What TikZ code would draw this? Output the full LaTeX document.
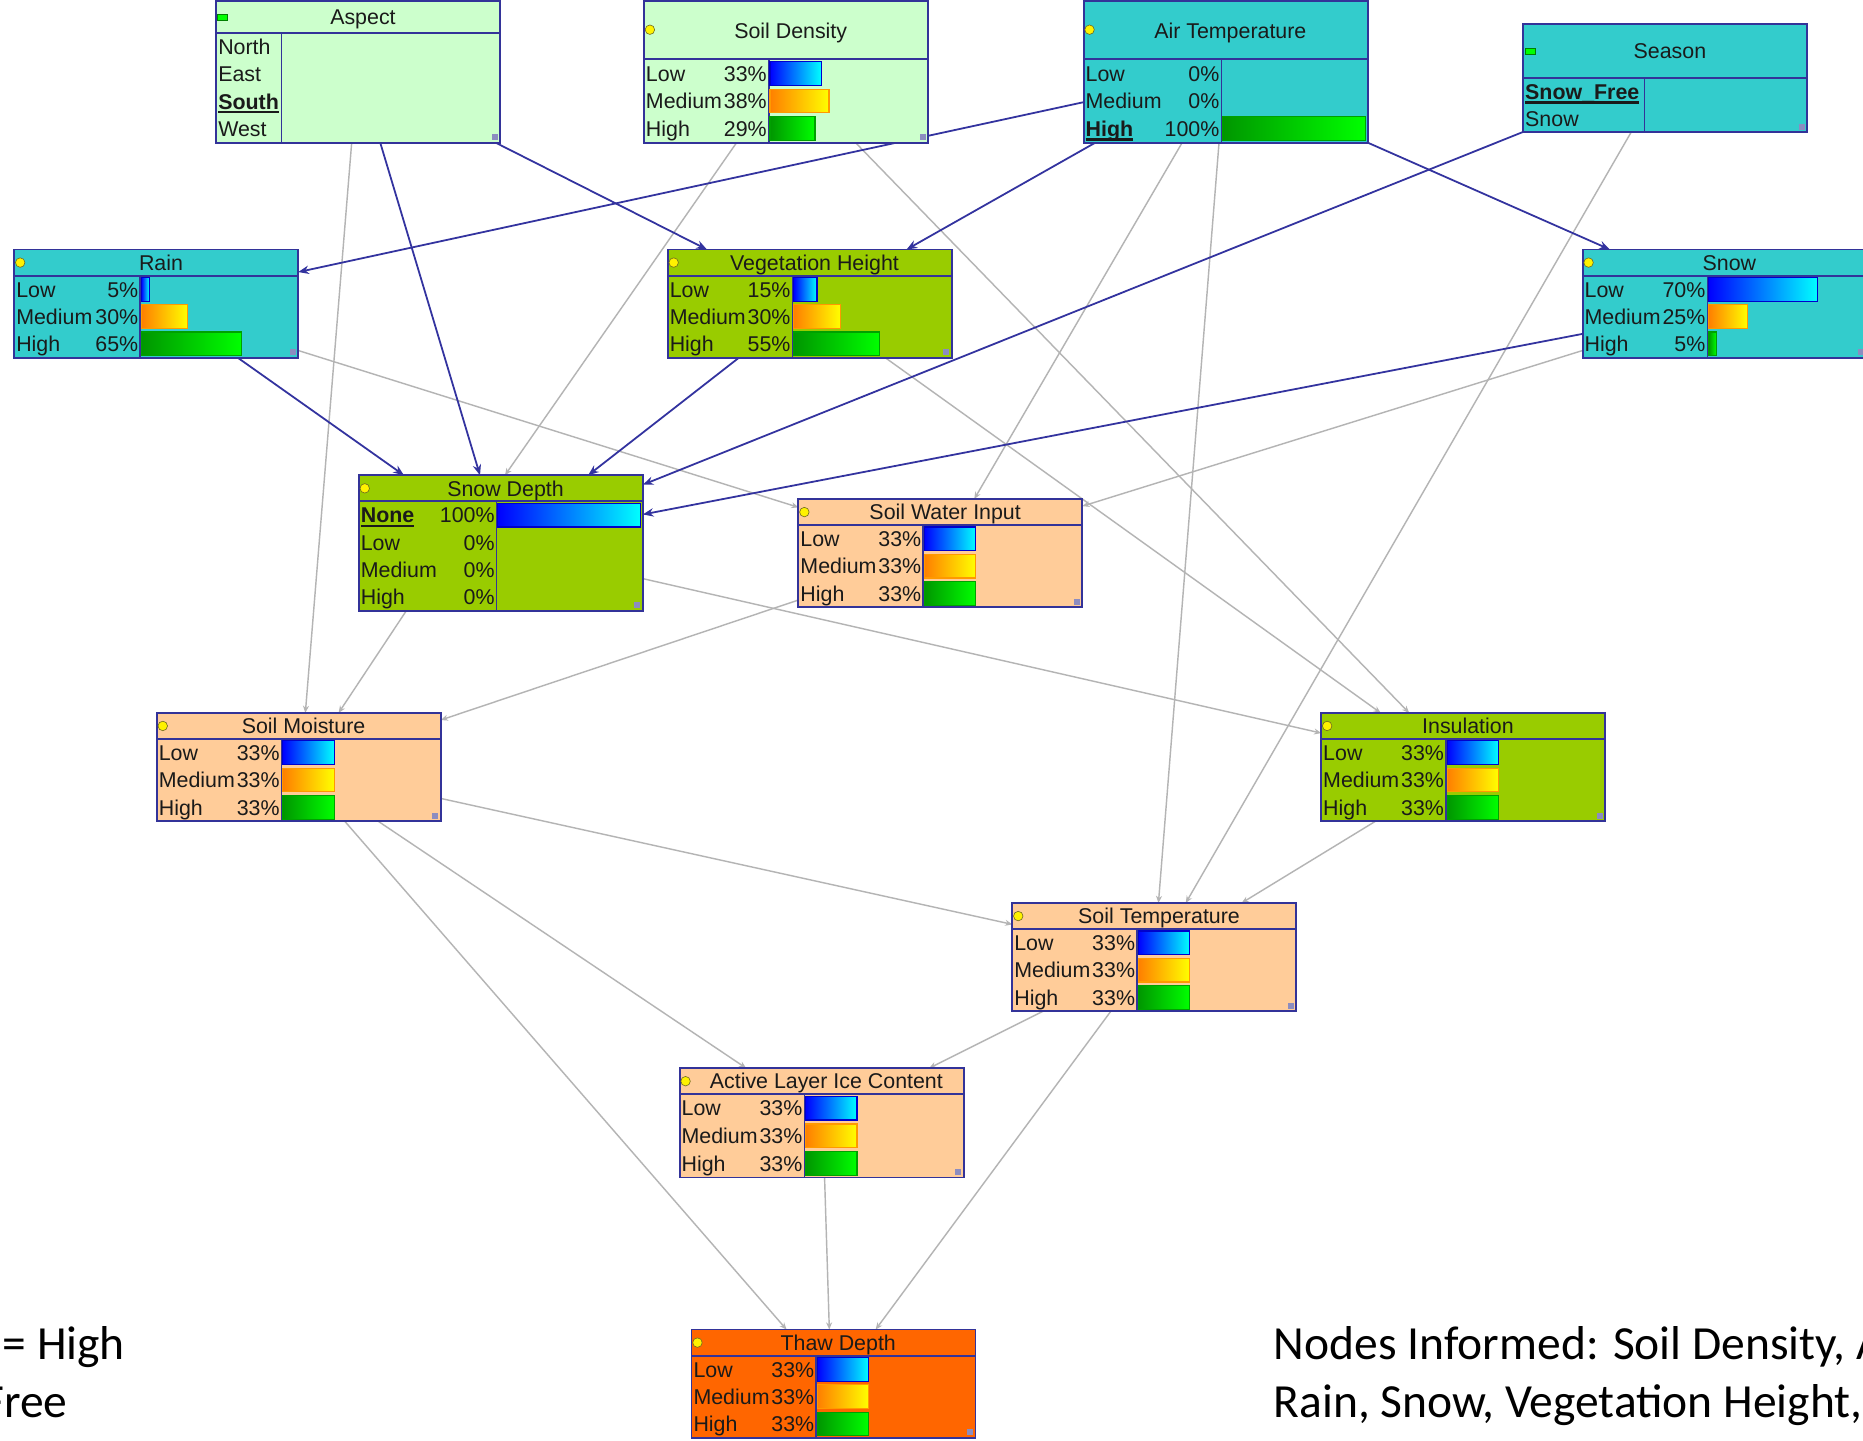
\documentclass[tikz,border=0pt]{standalone}
\usepackage{fontspec}
\setmainfont{Liberation Sans}
\newfontfamily\calib{Carlito}
\usetikzlibrary{arrows.meta,backgrounds}
\definecolor{lgreen}{HTML}{CCFFCC}
\definecolor{tealb}{HTML}{33CCCC}
\definecolor{oliveb}{HTML}{99CC00}
\definecolor{peach}{HTML}{FFCC99}
\definecolor{orng}{HTML}{FF6600}
\definecolor{navyb}{HTML}{333399}
\definecolor{edgeblue}{HTML}{33339F}
\definecolor{edgegrey}{HTML}{B4B4B4}
\definecolor{txt}{HTML}{1A1A1A}
\definecolor{gripc}{HTML}{8C8CC0}
\definecolor{lowL}{HTML}{0000FF}
\definecolor{lowR}{HTML}{00FFFF}
\definecolor{lowB}{HTML}{0000CC}
\definecolor{medL}{HTML}{FF7F00}
\definecolor{medR}{HTML}{FFFF00}
\definecolor{medB}{HTML}{FF9900}
\definecolor{hiL}{HTML}{009600}
\definecolor{hiR}{HTML}{00FF00}
\definecolor{hiB}{HTML}{00A000}
\tikzset{
  bnframe/.style={draw=navyb, line width=1.6pt, inner sep=0pt, outer sep=0pt, anchor=north west, rectangle},
  frameline/.style={draw=navyb, line width=1.6pt},
  divline/.style={draw=navyb, line width=1.4pt},
  titletext/.style={font=\fontsize{18}{20}\selectfont, text=txt, inner sep=0pt, anchor=base},
  rowtext/.style={font=\fontsize{18}{20}\selectfont, text=txt, inner sep=0pt},
  bottomtext/.style={font=\calib\fontsize{40}{46}\selectfont, text=black, inner sep=0pt},
  barlow/.style={draw=lowB, line width=1pt, left color=lowL, right color=lowR},
  barmed/.style={draw=medB, line width=1pt, left color=medL, right color=medR},
  barhigh/.style={draw=hiB, line width=1pt, left color=hiL, right color=hiR},
  bedge/.style={draw=edgeblue, line width=1.5pt, -{Stealth[length=9pt,width=7pt]}},
  gedge/.style={draw=edgegrey, line width=1.2pt, -{Stealth[length=6pt,width=5pt]}},
}
% name, left, top, right, header bottom, bottom, divider, fill, title
\newcommand\bnbox[9]{%
  \node[bnframe, fill=#8, minimum width={(#4-#2)*1pt}, minimum height={(#6-#3)*1pt}] (#1) at (#2,#3) {};
  \draw[frameline] (#2,#5) -- (#4,#5);
  \draw[divline] (#7,#5) -- (#7,#6);
  \node[titletext] (#1-title) at ({(#2+#4)/2+4},{(#3+#5)/2+6.5}) {#9};
  \fill[gripc] ({#4-7},{#6-7}) rectangle ({#4-2},{#6-2});
}
% id, left, yc, divider, right, label, pct, frac, barstyle
\newcommand\bnrow[9]{%
  \node[rowtext, anchor=base west] (#1-l) at ({#2+1.5},{#3+6.5}) {#6};
  \node[rowtext, anchor=base east] (#1-p) at ({#4-1.5},{#3+6.5}) {#7};
  \ifdim #8pt>0pt \path[#9] ({#4+1},{#3-10}) rectangle ({#4+1+#8*(#5-#4-3)},{#3+10});\fi
}
\newcommand\yind[2]{\filldraw[fill=yellow, draw=olive!70!black, line width=0.5pt] (#1,#2) circle (4);}
\newcommand\gind[2]{\filldraw[fill=green, draw=green!50!black, line width=0.5pt] ({#1-3},{#2-2.5}) rectangle ({#1+5},{#2+2.5});}
\newcommand\bnsel[1]{\setbox0\hbox{\bfseries #1}\rlap{\rule[-3.5pt]{\wd0}{2pt}}\box0}

\begin{document}
\begin{tikzpicture}[x=1pt, y=-1pt]
\useasboundingbox (0,0) rectangle (1568,1212);

% ---------------- nodes ----------------
\bnbox{asp}{182}{1}{421}{28}{120}{237}{lgreen}{Aspect}
\gind{186}{14.5}
\bnrow{asp1}{182}{39.5}{237}{421}{North}{}{0}{barlow}
\bnrow{asp2}{182}{62.5}{237}{421}{East}{}{0}{barlow}
\bnrow{asp3}{182}{85.5}{237}{421}{\bnsel{South}}{}{0}{barlow}
\bnrow{asp4}{182}{108.5}{237}{421}{West}{}{0}{barlow}

\bnbox{sd}{542}{1}{781}{50}{120}{647}{lgreen}{Soil Density}
\yind{547}{25}
\bnrow{sd1}{542}{61.7}{647}{781}{Low}{33\%}{0.33}{barlow}
\bnrow{sd2}{542}{85}{647}{781}{Medium}{38\%}{0.38}{barmed}
\bnrow{sd3}{542}{108.3}{647}{781}{High}{29\%}{0.29}{barhigh}

\bnbox{at}{912}{1}{1151}{50}{120}{1028}{tealb}{Air Temperature}
\yind{917}{25}
\bnrow{at1}{912}{61.7}{1028}{1151}{Low}{0\%}{0}{barlow}
\bnrow{at2}{912}{85}{1028}{1151}{Medium}{0\%}{0}{barmed}
\bnrow{at3}{912}{108.3}{1028}{1151}{\bnsel{High}}{100\%}{1}{barhigh}

\bnbox{sea}{1282}{20}{1521}{66}{111}{1384}{tealb}{Season}
\gind{1287}{43}
\bnrow{sea1}{1282}{77.25}{1384}{1521}{\bnsel{Snow\_Free}}{}{0}{barlow}
\bnrow{sea2}{1282}{99.75}{1384}{1521}{Snow}{}{0}{barlow}

\bnbox{rain}{12}{210}{251}{232}{301}{118}{tealb}{Rain}
\yind{17}{221}
\bnrow{rain1}{12}{243.5}{118}{251}{Low}{5\%}{0.05}{barlow}
\bnrow{rain2}{12}{266.5}{118}{251}{Medium}{30\%}{0.30}{barmed}
\bnrow{rain3}{12}{289.5}{118}{251}{High}{65\%}{0.65}{barhigh}

\bnbox{veg}{562}{210}{801}{232}{301}{667}{oliveb}{Vegetation Height}
\yind{567}{221}
\bnrow{veg1}{562}{243.5}{667}{801}{Low}{15\%}{0.15}{barlow}
\bnrow{veg2}{562}{266.5}{667}{801}{Medium}{30\%}{0.30}{barmed}
\bnrow{veg3}{562}{289.5}{667}{801}{High}{55\%}{0.55}{barhigh}

\bnbox{snow}{1332}{210}{1571}{232}{301}{1437}{tealb}{Snow}
\yind{1337}{221}
\bnrow{snow1}{1332}{243.5}{1437}{1571}{Low}{70\%}{0.70}{barlow}
\bnrow{snow2}{1332}{266.5}{1437}{1571}{Medium}{25\%}{0.25}{barmed}
\bnrow{snow3}{1332}{289.5}{1437}{1571}{High}{5\%}{0.05}{barhigh}

\bnbox{sdep}{302}{400}{541}{422}{514}{418}{oliveb}{Snow Depth}
\yind{307}{411}
\bnrow{sdep1}{302}{433.5}{418}{541}{\bnsel{None}}{100\%}{1}{barlow}
\bnrow{sdep2}{302}{456.5}{418}{541}{Low}{0\%}{0}{barlow}
\bnrow{sdep3}{302}{479.5}{418}{541}{Medium}{0\%}{0}{barmed}
\bnrow{sdep4}{302}{502.5}{418}{541}{High}{0\%}{0}{barhigh}

\bnbox{swi}{672}{420}{911}{442}{511}{777}{peach}{Soil Water Input}
\yind{677}{431}
\bnrow{swi1}{672}{453.5}{777}{911}{Low}{33\%}{0.33}{barlow}
\bnrow{swi2}{672}{476.5}{777}{911}{Medium}{33\%}{0.33}{barmed}
\bnrow{swi3}{672}{499.5}{777}{911}{High}{33\%}{0.33}{barhigh}

\bnbox{sm}{132}{600}{371}{622}{691}{237}{peach}{Soil Moisture}
\yind{137}{611}
\bnrow{sm1}{132}{633.5}{237}{371}{Low}{33\%}{0.33}{barlow}
\bnrow{sm2}{132}{656.5}{237}{371}{Medium}{33\%}{0.33}{barmed}
\bnrow{sm3}{132}{679.5}{237}{371}{High}{33\%}{0.33}{barhigh}

\bnbox{ins}{1112}{600}{1351}{622}{691}{1217}{oliveb}{Insulation}
\yind{1117}{611}
\bnrow{ins1}{1112}{633.5}{1217}{1351}{Low}{33\%}{0.33}{barlow}
\bnrow{ins2}{1112}{656.5}{1217}{1351}{Medium}{33\%}{0.33}{barmed}
\bnrow{ins3}{1112}{679.5}{1217}{1351}{High}{33\%}{0.33}{barhigh}

\bnbox{st}{852}{760}{1091}{782}{851}{957}{peach}{Soil Temperature}
\yind{857}{771}
\bnrow{st1}{852}{793.5}{957}{1091}{Low}{33\%}{0.33}{barlow}
\bnrow{st2}{852}{816.5}{957}{1091}{Medium}{33\%}{0.33}{barmed}
\bnrow{st3}{852}{839.5}{957}{1091}{High}{33\%}{0.33}{barhigh}

\bnbox{alic}{572}{899}{811}{921}{991}{677}{peach}{Active Layer Ice Content}
\yind{577}{910}
\bnrow{alic1}{572}{932.7}{677}{811}{Low}{33\%}{0.33}{barlow}
\bnrow{alic2}{572}{956}{677}{811}{Medium}{33\%}{0.33}{barmed}
\bnrow{alic3}{572}{979.3}{677}{811}{High}{33\%}{0.33}{barhigh}

\bnbox{td}{582}{1119}{821}{1141}{1210}{687}{orng}{Thaw Depth}
\yind{587}{1130}
\bnrow{td1}{582}{1152.5}{687}{821}{Low}{33\%}{0.33}{barlow}
\bnrow{td2}{582}{1175.5}{687}{821}{Medium}{33\%}{0.33}{barmed}
\bnrow{td3}{582}{1198.5}{687}{821}{High}{33\%}{0.33}{barhigh}

% ---------------- bottom texts ----------------
\node[bottomtext, anchor=base west] (lefttxt1) at (2,1144) {= High};
\node[bottomtext, anchor=base east] (lefttxt2) at (57,1193) {Free};
\node[bottomtext, anchor=base west] (righttxt1) at (1072,1144) {Nodes Informed: Soil Density, A};
\node[bottomtext, anchor=base west] (righttxt2) at (1072,1193) {Rain, Snow, Vegetation Height,};

% ---------------- connectors ----------------
\begin{pgfonlayer}{background}
\fill[white] (0,0) rectangle (1568,1212);
% grey links
\draw[gedge] ([shift={(114,0)}]asp.south west) -- ([shift={(125,0)}]sm.north west);
\draw[gedge] ([shift={(78,0)}]sd.south west) -- ([shift={(123,0)}]sdep.north west);
\draw[gedge] ([shift={(178,0)}]sd.south west) -- ([shift={(74,0)}]ins.north west);
\draw[gedge] ([shift={(83,0)}]at.south west) -- ([shift={(148,0)}]swi.north west);
\draw[gedge] ([shift={(114,0)}]at.south west) -- ([shift={(123,0)}]st.north west);
\draw[gedge] ([shift={(91,0)}]sea.south west) -- ([shift={(146,0)}]st.north west);
\draw[gedge] ([shift={(0,85)}]rain.north east) -- ([shift={(0,7)}]swi.north west);
\draw[gedge] ([shift={(183,0)}]veg.south west) -- ([shift={(50,0)}]ins.north west);
\draw[gedge] ([shift={(0,85)}]snow.north west) -- ([shift={(0,6)}]swi.north east);
\draw[gedge] ([shift={(40,0)}]sdep.south west) -- ([shift={(153,0)}]sm.north west);
\draw[gedge] ([shift={(0,87)}]sdep.north east) -- ([shift={(0,17)}]ins.north west);
\draw[gedge] ([shift={(0,85)}]swi.north west) -- ([shift={(0,6)}]sm.north east);
\draw[gedge] ([shift={(0,72)}]sm.north east) -- ([shift={(0,18)}]st.north west);
\draw[gedge] ([shift={(186,0)}]sm.south west) -- ([shift={(56,0)}]alic.north west);
\draw[gedge] ([shift={(158,0)}]sm.south west) -- ([shift={(80,0)}]td.north west);
\draw[gedge] ([shift={(46,0)}]ins.south west) -- ([shift={(193,0)}]st.north west);
\draw[gedge] ([shift={(26,0)}]st.south west) -- ([shift={(210,0)}]alic.north west);
\draw[gedge] ([shift={(83,0)}]st.south west) -- ([shift={(155,0)}]td.north west);
\draw[gedge] ([shift={(122,0)}]alic.south west) -- ([shift={(116,0)}]td.north west);
% blue links
\draw[bedge] ([shift={(-4,0)}]asp.south east) -- ([shift={(33,0)}]veg.north west);
\draw[bedge] ([shift={(138,0)}]asp.south west) -- ([shift={(102,0)}]sdep.north west);
\draw[bedge] ([shift={(0,85)}]at.north west) -- ([shift={(0,19)}]rain.north east);
\draw[bedge] ([shift={(10,0)}]at.south west) -- ([shift={(201,0)}]veg.north west);
\draw[bedge] (at.south east) -- ([shift={(23,0)}]snow.north west);
\draw[bedge] (sea.south west) -- ([shift={(0,8)}]sdep.north east);
\draw[bedge] ([shift={(188,0)}]rain.south west) -- ([shift={(38,0)}]sdep.north west);
\draw[bedge] ([shift={(60,0)}]veg.south west) -- ([shift={(193,0)}]sdep.north west);
\draw[bedge] ([shift={(0,71)}]snow.north west) -- ([shift={(0,33)}]sdep.north east);
\end{pgfonlayer}
\end{tikzpicture}
\end{document}
